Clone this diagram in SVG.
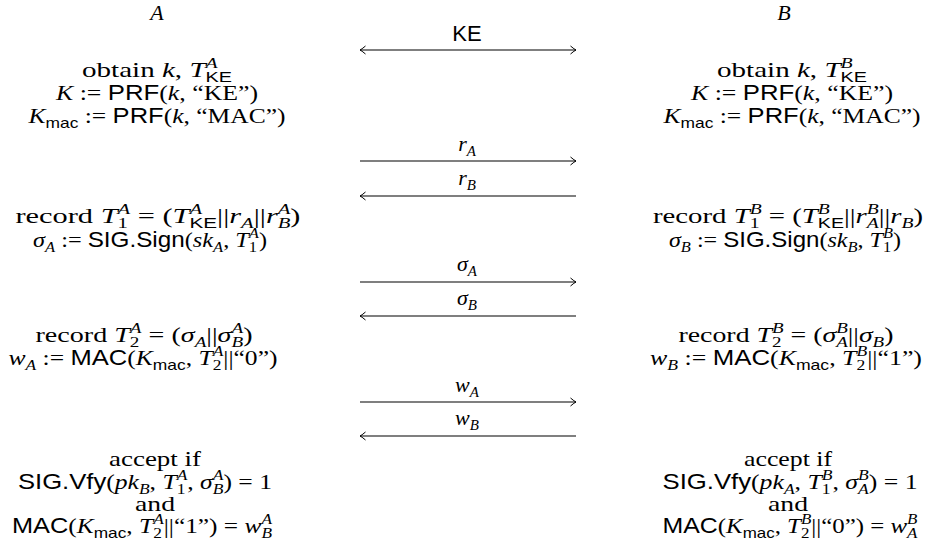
<svg xmlns="http://www.w3.org/2000/svg" width="930" height="554" viewBox="0 0 930 554">
<style>
.t{font-family:"Liberation Serif",serif;font-size:22px;fill:#000;text-anchor:middle}
.i{font-style:italic}
.s{font-family:"Liberation Sans",sans-serif;font-style:normal}
.sc{font-size:15px}
.ar{stroke:#000;stroke-width:1.1;fill:none}
</style>
<defs>
<marker id="hd" viewBox="-8 -5 9 10" markerWidth="9" markerHeight="10" refX="0" refY="0" orient="auto-start-reverse" markerUnits="userSpaceOnUse">
<path d="M-5.5,-4 Q-1.5,-0.6 0,0 Q-1.5,0.6 -5.5,4" fill="none" stroke="#000" stroke-width="1"/>
</marker>
</defs>

<g id="partyA"><text class="t i" x="157" y="20">A</text></g>
<g id="partyB"><text class="t i" x="784" y="20">B</text></g>

<g id="connectors">
<line class="ar" x1="360" y1="50" x2="576" y2="50" marker-start="url(#hd)" marker-end="url(#hd)"/>
<text class="t s" x="467" y="41">KE</text>
<line class="ar" x1="360" y1="161" x2="576" y2="161" marker-end="url(#hd)"/>
<text class="t" x="467" y="151"><tspan class="i">r</tspan><tspan class="i sc" dy="5">A</tspan></text>
<line class="ar" x1="576" y1="196" x2="360" y2="196" marker-end="url(#hd)"/>
<text class="t" x="467" y="185"><tspan class="i">r</tspan><tspan class="i sc" dy="5">B</tspan></text>
<line class="ar" x1="360" y1="282" x2="576" y2="282" marker-end="url(#hd)"/>
<text class="t" x="467" y="271"><tspan class="i">σ</tspan><tspan class="i sc" dy="5">A</tspan></text>
<line class="ar" x1="576" y1="316" x2="360" y2="316" marker-end="url(#hd)"/>
<text class="t" x="467" y="305"><tspan class="i">σ</tspan><tspan class="i sc" dy="5">B</tspan></text>
<line class="ar" x1="360" y1="402" x2="576" y2="402" marker-end="url(#hd)"/>
<text class="t" x="467" y="392"><tspan class="i">w</tspan><tspan class="i sc" dy="5">A</tspan></text>
<line class="ar" x1="576" y1="436" x2="360" y2="436" marker-end="url(#hd)"/>
<text class="t" x="467" y="425"><tspan class="i">w</tspan><tspan class="i sc" dy="5">B</tspan></text>
</g>

<g id="A1">
<text class="t" x="157" y="77" textLength="150" lengthAdjust="spacingAndGlyphs">obtain <tspan class="i">k</tspan>, <tspan class="i">T</tspan><tspan class="i sc" dy="-9">A</tspan><tspan class="s sc" dx="-9.2" dy="14">KE</tspan></text>
<text class="t" x="157" y="100" textLength="202" lengthAdjust="spacingAndGlyphs"><tspan class="i">K</tspan> := <tspan class="s">PRF</tspan>(<tspan class="i">k</tspan>, “KE”)</text>
<text class="t" x="157" y="123" textLength="257" lengthAdjust="spacingAndGlyphs"><tspan class="i">K</tspan><tspan class="s sc" dy="5">mac</tspan><tspan dy="-5"> := </tspan><tspan class="s">PRF</tspan>(<tspan class="i">k</tspan>, “MAC”)</text>
</g>
<g id="B1">
<text class="t" x="792" y="77" textLength="150" lengthAdjust="spacingAndGlyphs">obtain <tspan class="i">k</tspan>, <tspan class="i">T</tspan><tspan class="i sc" dy="-9">B</tspan><tspan class="s sc" dx="-9.2" dy="14">KE</tspan></text>
<text class="t" x="792" y="100" textLength="202" lengthAdjust="spacingAndGlyphs"><tspan class="i">K</tspan> := <tspan class="s">PRF</tspan>(<tspan class="i">k</tspan>, “KE”)</text>
<text class="t" x="792" y="123" textLength="257" lengthAdjust="spacingAndGlyphs"><tspan class="i">K</tspan><tspan class="s sc" dy="5">mac</tspan><tspan dy="-5"> := </tspan><tspan class="s">PRF</tspan>(<tspan class="i">k</tspan>, “MAC”)</text>
</g>

<g id="A2">
<text class="t" x="158" y="223" textLength="285" lengthAdjust="spacingAndGlyphs">record <tspan class="i">T</tspan><tspan class="sc" dy="5">1</tspan><tspan class="i sc" dx="-7.5" dy="-14">A</tspan><tspan dy="9"> = (</tspan><tspan class="i">T</tspan><tspan class="i sc" dy="-9">A</tspan><tspan class="s sc" dx="-9.2" dy="14">KE</tspan><tspan dy="-5">||</tspan><tspan class="i">r</tspan><tspan class="i sc" dy="5">A</tspan><tspan dy="-5">||</tspan><tspan class="i">r</tspan><tspan class="i sc" dy="-9">A</tspan><tspan class="i sc" dx="-9.2" dy="14">B</tspan><tspan dy="-5">)</tspan></text>
<text class="t" x="150" y="247" textLength="234" lengthAdjust="spacingAndGlyphs"><tspan class="i">σ</tspan><tspan class="i sc" dy="5">A</tspan><tspan dy="-5"> := </tspan><tspan class="s">SIG.Sign</tspan>(<tspan class="i">sk</tspan><tspan class="i sc" dy="5">A</tspan><tspan dy="-5">, </tspan><tspan class="i">T</tspan><tspan class="sc" dy="5">1</tspan><tspan class="i sc" dx="-7.5" dy="-14">A</tspan><tspan dy="9">)</tspan></text>
</g>
<g id="B2">
<text class="t" x="788" y="223" textLength="270" lengthAdjust="spacingAndGlyphs">record <tspan class="i">T</tspan><tspan class="sc" dy="5">1</tspan><tspan class="i sc" dx="-7.5" dy="-14">B</tspan><tspan dy="9"> = (</tspan><tspan class="i">T</tspan><tspan class="i sc" dy="-9">B</tspan><tspan class="s sc" dx="-9.2" dy="14">KE</tspan><tspan dy="-5">||</tspan><tspan class="i">r</tspan><tspan class="i sc" dy="-9">B</tspan><tspan class="i sc" dx="-9.2" dy="14">A</tspan><tspan dy="-5">||</tspan><tspan class="i">r</tspan><tspan class="i sc" dy="5">B</tspan><tspan dy="-5">)</tspan></text>
<text class="t" x="785" y="247" textLength="232" lengthAdjust="spacingAndGlyphs"><tspan class="i">σ</tspan><tspan class="i sc" dy="5">B</tspan><tspan dy="-5"> := </tspan><tspan class="s">SIG.Sign</tspan>(<tspan class="i">sk</tspan><tspan class="i sc" dy="5">B</tspan><tspan dy="-5">, </tspan><tspan class="i">T</tspan><tspan class="sc" dy="5">1</tspan><tspan class="i sc" dx="-7.5" dy="-14">B</tspan><tspan dy="9">)</tspan></text>
</g>

<g id="A3">
<text class="t" x="144" y="342" textLength="217" lengthAdjust="spacingAndGlyphs">record <tspan class="i">T</tspan><tspan class="sc" dy="5">2</tspan><tspan class="i sc" dx="-7.5" dy="-14">A</tspan><tspan dy="9"> = (</tspan><tspan class="i">σ</tspan><tspan class="i sc" dy="5">A</tspan><tspan dy="-5">||</tspan><tspan class="i">σ</tspan><tspan class="i sc" dy="-9">A</tspan><tspan class="i sc" dx="-9.2" dy="14">B</tspan><tspan dy="-5">)</tspan></text>
<text class="t" x="143" y="365" textLength="269" lengthAdjust="spacingAndGlyphs"><tspan class="i">w</tspan><tspan class="i sc" dy="5">A</tspan><tspan dy="-5"> := </tspan><tspan class="s">MAC</tspan>(<tspan class="i">K</tspan><tspan class="s sc" dy="5">mac</tspan><tspan dy="-5">, </tspan><tspan class="i">T</tspan><tspan class="sc" dy="5">2</tspan><tspan class="i sc" dx="-7.5" dy="-14">A</tspan><tspan dy="9">||“0”)</tspan></text>
</g>
<g id="B3">
<text class="t" x="786" y="342" textLength="215" lengthAdjust="spacingAndGlyphs">record <tspan class="i">T</tspan><tspan class="sc" dy="5">2</tspan><tspan class="i sc" dx="-7.5" dy="-14">B</tspan><tspan dy="9"> = (</tspan><tspan class="i">σ</tspan><tspan class="i sc" dy="-9">B</tspan><tspan class="i sc" dx="-9.2" dy="14">A</tspan><tspan dy="-5">||</tspan><tspan class="i">σ</tspan><tspan class="i sc" dy="5">B</tspan><tspan dy="-5">)</tspan></text>
<text class="t" x="786" y="365" textLength="272" lengthAdjust="spacingAndGlyphs"><tspan class="i">w</tspan><tspan class="i sc" dy="5">B</tspan><tspan dy="-5"> := </tspan><tspan class="s">MAC</tspan>(<tspan class="i">K</tspan><tspan class="s sc" dy="5">mac</tspan><tspan dy="-5">, </tspan><tspan class="i">T</tspan><tspan class="sc" dy="5">2</tspan><tspan class="i sc" dx="-7.5" dy="-14">B</tspan><tspan dy="9">||“1”)</tspan></text>
</g>

<g id="A4">
<text class="t" x="155" y="466" textLength="92" lengthAdjust="spacingAndGlyphs">accept if</text>
<text class="t" x="145" y="489" textLength="254" lengthAdjust="spacingAndGlyphs"><tspan class="s">SIG.Vfy</tspan>(<tspan class="i">pk</tspan><tspan class="i sc" dy="5">B</tspan><tspan dy="-5">, </tspan><tspan class="i">T</tspan><tspan class="sc" dy="5">1</tspan><tspan class="i sc" dx="-7.5" dy="-14">A</tspan><tspan dy="9">, </tspan><tspan class="i">σ</tspan><tspan class="i sc" dy="-9">A</tspan><tspan class="i sc" dx="-9.2" dy="14">B</tspan><tspan dy="-5">) = 1</tspan></text>
<text class="t" x="155" y="511" textLength="40" lengthAdjust="spacingAndGlyphs">and</text>
<text class="t" x="142" y="533" textLength="260" lengthAdjust="spacingAndGlyphs"><tspan class="s">MAC</tspan>(<tspan class="i">K</tspan><tspan class="s sc" dy="5">mac</tspan><tspan dy="-5">, </tspan><tspan class="i">T</tspan><tspan class="sc" dy="5">2</tspan><tspan class="i sc" dx="-7.5" dy="-14">A</tspan><tspan dy="9">||“1”) = </tspan><tspan class="i">w</tspan><tspan class="i sc" dy="-9">A</tspan><tspan class="i sc" dx="-9.2" dy="14">B</tspan></text>
</g>
<g id="B4">
<text class="t" x="788" y="466" textLength="88" lengthAdjust="spacingAndGlyphs">accept if</text>
<text class="t" x="790" y="489" textLength="255" lengthAdjust="spacingAndGlyphs"><tspan class="s">SIG.Vfy</tspan>(<tspan class="i">pk</tspan><tspan class="i sc" dy="5">A</tspan><tspan dy="-5">, </tspan><tspan class="i">T</tspan><tspan class="sc" dy="5">1</tspan><tspan class="i sc" dx="-7.5" dy="-14">B</tspan><tspan dy="9">, </tspan><tspan class="i">σ</tspan><tspan class="i sc" dy="-9">B</tspan><tspan class="i sc" dx="-9.2" dy="14">A</tspan><tspan dy="-5">) = 1</tspan></text>
<text class="t" x="788" y="511" textLength="40" lengthAdjust="spacingAndGlyphs">and</text>
<text class="t" x="790" y="533" textLength="255" lengthAdjust="spacingAndGlyphs"><tspan class="s">MAC</tspan>(<tspan class="i">K</tspan><tspan class="s sc" dy="5">mac</tspan><tspan dy="-5">, </tspan><tspan class="i">T</tspan><tspan class="sc" dy="5">2</tspan><tspan class="i sc" dx="-7.5" dy="-14">B</tspan><tspan dy="9">||“0”) = </tspan><tspan class="i">w</tspan><tspan class="i sc" dy="-9">B</tspan><tspan class="i sc" dx="-9.2" dy="14">A</tspan></text>
</g>
</svg>
